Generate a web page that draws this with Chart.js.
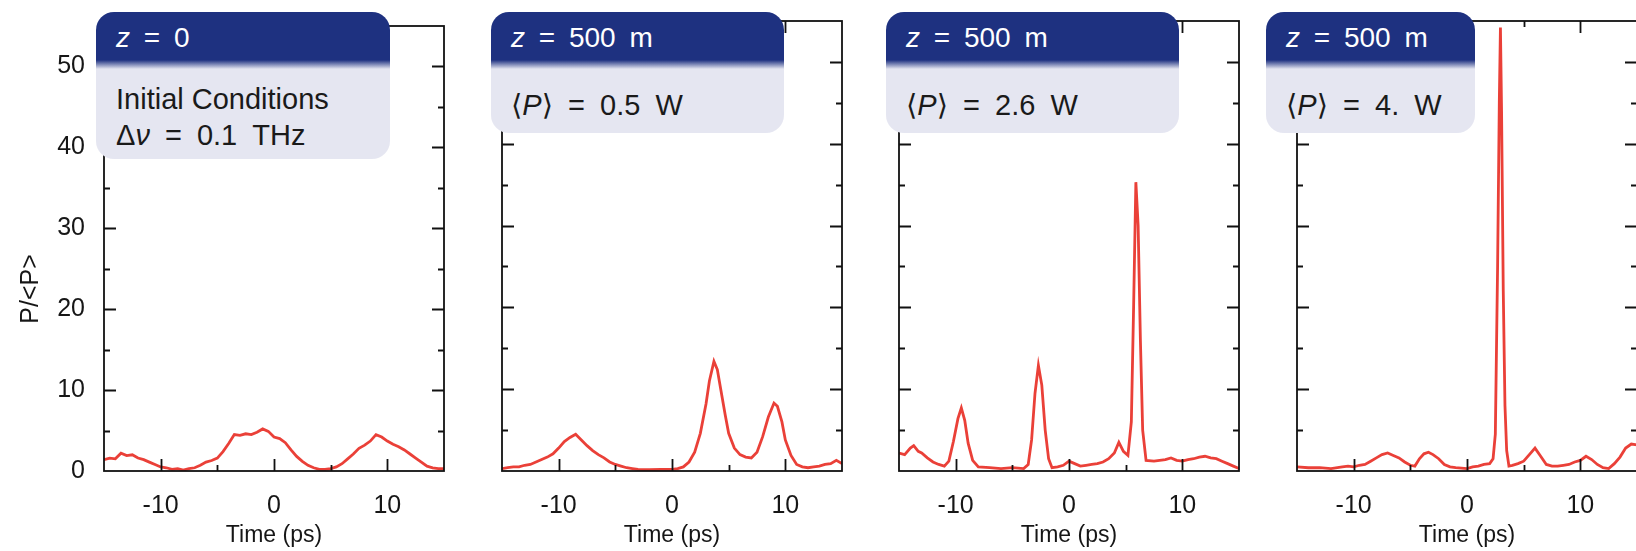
<!DOCTYPE html>
<html>
<head>
<meta charset="utf-8">
<script src="https://cdn.jsdelivr.net/npm/chart.js"></script>
<style>
  html, body { margin: 0; padding: 0; background: #fff; overflow: hidden; }
  #tela { position: relative; width: 1636px; height: 551px; overflow: hidden; }
  canvas { position: absolute; top: 0; }
  .caixa {
    position: absolute; top: 12px; border-radius: 18px; box-sizing: border-box;
    padding-left: 20px;
    background: linear-gradient(to bottom, #1e3180 0px, #1e3180 48px, #e5e6f1 57px, #e5e6f1 100%);
    font-family: "Liberation Sans", "DejaVu Sans", sans-serif; white-space: nowrap;
  }
  .cab { color: #fff; font-size: 28px; line-height: 28px; padding-top: 12px; height: 38px; word-spacing: 6px; }
  .corpo { color: #1a1a1a; font-size: 29px; line-height: 36px; padding-top: 25px; }
  .corpo.duas { padding-top: 19px; }
  .corpo .mat { word-spacing: 7px; }
</style>
</head>
<body>
<div id="tela"></div>
<script>
// tempo (ps) e P/<P>, um par de listas por painel
const tempo0 = [-15,-14.5,-14,-13.5,-13,-12.5,-12,-11.5,-11,-10.5,-10,-9.5,-9,-8.5,-8,-7.5,-7,-6.5,-6,-5.5,-5,-4.5,-4,-3.5,-3,-2.5,-2,-1.5,-1,-0.5,0,0.5,1,1.5,2,2.5,3,3.5,4,4.5,5,5.5,6,6.5,7,7.5,8,8.5,9,9.5,10,10.5,11,11.5,12,12.5,13,13.5,14,14.5,15];
const potencia0 = [1.4,1.6,1.5,2.2,1.9,2.0,1.6,1.4,1.1,0.8,0.5,0.4,0.2,0.3,0.1,0.3,0.4,0.7,1.1,1.3,1.6,2.4,3.4,4.5,4.4,4.6,4.5,4.8,5.2,4.9,4.2,4.0,3.5,2.6,1.8,1.2,0.7,0.4,0.2,0.2,0.3,0.5,0.9,1.5,2.1,2.8,3.2,3.7,4.5,4.2,3.7,3.3,3.0,2.6,2.1,1.6,1.1,0.6,0.4,0.3,0.3];

const tempo1 = [-15,-14.5,-14,-13.5,-13,-12.5,-12,-11.5,-11,-10.5,-10,-9.5,-9,-8.5,-8,-7.5,-7,-6.5,-6,-5.5,-5,-4.5,-4,-3.5,-3,-2,-1,0,0.5,1,1.5,2,2.5,3,3.3,3.7,4,4.3,4.7,5,5.5,6,6.5,7,7.5,8,8.5,9,9.3,9.7,10,10.5,11,11.5,12,12.5,13,13.5,14,14.5,15];
const potencia1 = [0.3,0.4,0.5,0.5,0.7,0.8,1.1,1.4,1.7,2.1,2.8,3.6,4.1,4.5,3.8,3.1,2.5,2.0,1.6,1.1,0.8,0.6,0.4,0.3,0.2,0.15,0.2,0.2,0.3,0.5,1.1,2.3,4.6,8.2,11.0,13.4,12.4,10.0,6.8,4.6,2.8,2.0,1.7,1.6,2.3,4.2,6.6,8.3,7.9,6.0,3.8,1.9,0.8,0.5,0.4,0.5,0.6,0.8,0.9,1.3,0.9];

const tempo2 = [-15,-14.5,-14,-13.7,-13.3,-13,-12.5,-12,-11.5,-11,-10.6,-10.2,-9.8,-9.5,-9.2,-8.9,-8.5,-8,-7,-6,-5,-4,-3.6,-3.3,-3,-2.7,-2.4,-2.1,-1.8,-1.5,-1,-0.5,0,0.5,1,1.5,2,2.5,3,3.5,4,4.4,4.8,5.2,5.5,5.7,5.9,6.1,6.3,6.5,6.8,7.5,8,8.5,9,9.5,10,10.5,11,11.5,12,12.5,13,13.5,14,14.5,15];
const potencia2 = [2.2,2.0,2.8,3.1,2.4,2.2,1.6,1.1,0.8,0.6,1.2,3.6,6.4,7.7,6.2,3.4,1.3,0.5,0.4,0.3,0.4,0.3,0.8,3.8,9.5,12.9,10.5,5.0,1.5,0.4,0.5,0.7,1.2,0.9,0.6,0.7,0.8,0.9,1.1,1.5,2.2,3.5,2.4,1.9,6.0,20.0,35.3,30.0,16.0,5.0,1.3,1.2,1.3,1.4,1.6,1.3,1.2,1.4,1.5,1.7,1.8,1.6,1.5,1.2,0.9,0.6,0.3];

const tempo3 = [-15,-14,-13,-12,-11,-10.5,-10,-9.5,-9,-8.5,-8,-7.5,-7,-6.5,-6,-5.5,-5,-4.6,-4.2,-3.8,-3.4,-3,-2.5,-2,-1.5,-1,0,0.5,1,1.5,2,2.3,2.5,2.7,2.85,2.95,3.05,3.2,3.35,3.5,3.7,4,4.5,5,5.5,6,6.5,7,7.5,8,8.5,9,9.5,10,10.5,11,11.5,12,12.5,13,13.5,14,14.5,15];
const potencia3 = [0.5,0.4,0.4,0.3,0.5,0.6,0.5,0.7,0.8,1.2,1.6,2.0,2.2,1.9,1.6,1.1,0.7,0.6,1.5,2.1,2.3,2.0,1.5,0.8,0.5,0.4,0.3,0.5,0.6,0.8,0.9,1.5,4.5,25.0,45.0,54.2,44.0,22.0,8.0,2.5,0.6,0.7,0.9,1.2,2.0,2.8,1.8,0.8,0.6,0.6,0.7,0.8,1.1,1.3,1.8,1.4,0.8,0.4,0.3,0.9,1.7,2.8,3.3,3.2];

const rotulosTempo = [-10, 0, 10];
const rotulosPotencia = [0, 10, 20, 30, 40, 50];
const tituloY = 'P/<P>';
const cabecalhos = ['<i>z</i> = 0', '<i>z</i> = 500 m', '<i>z</i> = 500 m', '<i>z</i> = 500 m'];
const descricoes = [
  ['Initial Conditions', 'Δ<i>ν</i> = 0.1 THz'],
  ['⟨<i>P</i>⟩ = 0.5 W'],
  ['⟨<i>P</i>⟩ = 2.6 W'],
  ['⟨<i>P</i>⟩ = 4. W']
];

const tempos = [tempo0, tempo1, tempo2, tempo3];
const potencias = [potencia0, potencia1, potencia2, potencia3];

// posicoes na pagina
const esquerdaCanvas = [0, 398, 795, 1193];
const caixas = [
  { left: 96, width: 294, height: 147 },
  { left: 491, width: 293, height: 121 },
  { left: 886, width: 293, height: 121 },
  { left: 1266, width: 209, height: 121 }
];

const corLinha = 'rgb(234, 64, 56)';
const corTexto = '#161616';
const fonte = '"Liberation Sans", Arial, sans-serif';

// moldura com marcas para dentro, nos quatro lados
const moldura = {
  id: 'moldura',
  afterDatasetsDraw(chart) {
    const { ctx, chartArea: a, scales: { x, y } } = chart;
    ctx.save();
    ctx.strokeStyle = '#111';
    ctx.lineWidth = 1.8;
    ctx.strokeRect(a.left, a.top, a.right - a.left, a.bottom - a.top);
    ctx.beginPath();
    x.ticks.forEach(t => {
      if (t.value <= x.min || t.value >= x.max) return;
      const px = Math.round(x.getPixelForValue(t.value)) + 0.5;
      const tam = t.value % 10 === 0 ? 12 : 6;
      ctx.moveTo(px, a.bottom); ctx.lineTo(px, a.bottom - tam);
      ctx.moveTo(px, a.top); ctx.lineTo(px, a.top + tam);
    });
    y.ticks.forEach(t => {
      if (t.value <= y.min || t.value >= y.max) return;
      const py = Math.round(y.getPixelForValue(t.value)) + 0.5;
      const tam = t.value % 10 === 0 ? 12 : 6;
      ctx.moveTo(a.left, py); ctx.lineTo(a.left + tam, py);
      ctx.moveTo(a.right, py); ctx.lineTo(a.right - tam, py);
    });
    ctx.stroke();

    // titulo do eixo y so no primeiro painel
    if (chart.options.mostraTituloY) {
      ctx.translate(31, y.getPixelForValue(22.5));
      ctx.rotate(-Math.PI / 2);
      ctx.fillStyle = corTexto;
      ctx.font = '25px ' + fonte;
      ctx.textAlign = 'center';
      ctx.textBaseline = 'middle';
      ctx.fillText(tituloY, 0, 0);
    }
    ctx.restore();
  }
};

function criaPainel(i) {
  const canvas = document.createElement('canvas');
  canvas.width = 456;
  canvas.height = 551;
  canvas.style.left = esquerdaCanvas[i] + 'px';
  document.getElementById('tela').appendChild(canvas);

  const primeiro = i === 0;
  const pontos = tempos[i].map((t, k) => ({ x: t, y: potencias[i][k] }));

  return new Chart(canvas, {
    type: 'line',
    data: {
      datasets: [{
        data: pontos,
        borderColor: corLinha,
        borderWidth: 2.8,
        pointRadius: 0,
        tension: 0,
        fill: false
      }]
    },
    options: {
      responsive: false,
      animation: false,
      mostraTituloY: primeiro,
      layout: { padding: { top: 21, right: 4, left: 0, bottom: 0 } },
      plugins: { legend: { display: false }, tooltip: { enabled: false } },
      scales: {
        x: {
          type: 'linear', min: -15, max: 15,
          grid: { display: false }, border: { display: false },
          ticks: {
            stepSize: 5, autoSkip: false, maxRotation: 0, padding: 12,
            color: corTexto, font: { family: fonte, size: 25 },
            callback: v => rotulosTempo.includes(v) ? String(v) : ''
          },
          title: {
            display: true, text: 'Time (ps)', color: corTexto,
            font: { family: fonte, size: 23 }, padding: { top: 0, bottom: 2 }
          },
          afterFit: s => { s.height = 80; }
        },
        y: {
          type: 'linear', min: 0, max: 55,
          grid: { display: false }, border: { display: false },
          ticks: {
            display: primeiro, stepSize: 5, autoSkip: false, padding: 11,
            color: corTexto, font: { family: fonte, size: 25 },
            callback: v => rotulosPotencia.includes(v) ? String(v) : ''
          },
          title: { display: false },
          afterFit: s => { s.width = 104; }
        }
      }
    },
    plugins: [moldura]
  });
}

function criaCaixa(i) {
  const c = caixas[i];
  const div = document.createElement('div');
  div.className = 'caixa';
  div.style.left = c.left + 'px';
  div.style.width = c.width + 'px';
  div.style.height = c.height + 'px';
  const linhas = descricoes[i];
  let html = '<div class="cab">' + cabecalhos[i] + '</div>';
  html += '<div class="corpo' + (linhas.length > 1 ? ' duas' : '') + '">';
  html += linhas.map(l => '<div' + (l.includes('=') ? ' class="mat"' : '') + '>' + l + '</div>').join('');
  html += '</div>';
  div.innerHTML = html;
  document.getElementById('tela').appendChild(div);
}

for (let i = 0; i < 4; i++) {
  criaPainel(i);
  criaCaixa(i);
}
</script>
</body>
</html>
